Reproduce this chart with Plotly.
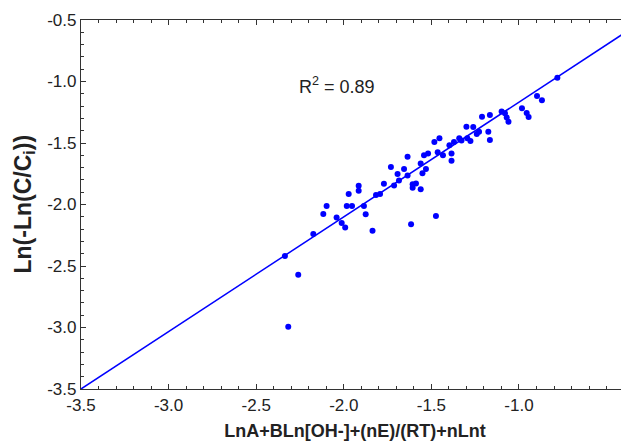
import plotly.graph_objects as go

x_vals = [-2.336, -2.260, -2.317, -2.174, -2.117, -2.098, -2.041, -2.012, -1.992, -1.983,
          -1.953, -1.972, -1.915, -1.915, -1.885, -1.875, -1.836, -1.816, -1.793, -1.771,
          -1.731, -1.713, -1.685, -1.693, -1.656, -1.636, -1.636, -1.607, -1.588, -1.607,
          -1.561, -1.616, -1.561, -1.531, -1.551, -1.542, -1.519, -1.483, -1.454, -1.464,
          -1.434, -1.385, -1.385, -1.474, -1.397, -1.371, -1.341, -1.328, -1.300, -1.261,
          -1.295, -1.277, -1.241, -1.228, -1.175, -1.166, -1.211, -1.166, -1.099, -1.080,
          -1.070, -1.060, -0.983, -0.956, -0.945, -0.897, -0.869, -0.781]
y_vals = [-2.419, -2.571, -2.993, -2.240, -2.077, -2.012, -2.106, -2.150, -2.187, -2.012,
          -2.012, -1.915, -1.847, -1.888, -2.012, -2.079, -2.214, -1.923, -1.915, -1.832,
          -1.695, -1.846, -1.805, -1.752, -1.711, -1.611, -1.764, -1.836, -1.829, -1.863,
          -1.876, -2.161, -1.667, -1.711, -1.746, -1.600, -1.585, -1.492, -1.462, -1.575,
          -1.599, -1.585, -1.644, -2.093, -1.519, -1.492, -1.462, -1.480, -1.367, -1.370,
          -1.462, -1.484, -1.427, -1.409, -1.408, -1.476, -1.286, -1.272, -1.244, -1.259,
          -1.293, -1.327, -1.218, -1.256, -1.289, -1.118, -1.152, -0.969]

fit_slope = 0.933
fit_intercept = -0.2345
x_range = [-3.5, -0.372]
y_range = [-3.5, -0.5]
x_ticks = [-3.5, -3.0, -2.5, -2.0, -1.5, -1.0]
y_ticks = [-3.5, -3.0, -2.5, -2.0, -1.5, -1.0, -0.5]
r2_text = "R<sup>2</sup> = 0.89"
x_title = "<b>LnA+BLn[OH-]+(nE)/(RT)+nLnt</b>"
y_title = "<b>Ln(-Ln(C/C<sub>i</sub>))</b>"

fit_x = list(x_range)
fit_y = [fit_slope * v + fit_intercept for v in fit_x]

fig = go.Figure()
fig.add_trace(go.Scatter(x=fit_x, y=fit_y, mode="lines",
                         line=dict(color="#0000ff", width=1.5), hoverinfo="skip"))
fig.add_trace(go.Scatter(x=x_vals, y=y_vals, mode="markers",
                         marker=dict(color="#0000ff", size=6, line=dict(width=0))))

axis_common = dict(showgrid=False, zeroline=False, showline=True, linecolor="#333333",
                   linewidth=1.2, ticks="inside", ticklen=5, tickcolor="#333333",
                   automargin=False,
                   tickfont=dict(family="Liberation Sans, Arial", size=17, color="#222222"))

fig.update_xaxes(range=x_range, tickvals=x_ticks, ticktext=[f"{v:.1f}" for v in x_ticks],
                 mirror="ticks",
                 minor=dict(dtick=0.1, tick0=-3.5, ticks="inside", ticklen=3, tickcolor="#333333"),
                 title=dict(text=x_title,
                            font=dict(family="Liberation Sans, Arial", size=18, color="#222222"),
                            standoff=10),
                 **axis_common)
fig.update_yaxes(range=y_range, tickvals=y_ticks, ticktext=[f"{v:.1f}" for v in y_ticks],
                 mirror=False,
                 minor=dict(dtick=0.1, tick0=-3.5, ticks="inside", ticklen=3, tickcolor="#333333"),
                 **axis_common)

fig.add_annotation(x=-0.104, y=0.5, xref="paper", yref="paper", text=y_title,
                   textangle=-90, showarrow=False, xanchor="center", yanchor="middle",
                   font=dict(family="Liberation Sans, Arial", size=23, color="#222222"))

fig.add_annotation(x=-2.04, y=-1.03, xref="x", yref="y", text=r2_text, showarrow=False,
                   font=dict(family="Liberation Sans, Arial", size=18, color="#222222"))

# page body adds an 8px offset; margins compensate so the plot box lands where the reference has it
fig.update_layout(width=629, height=446, showlegend=False,
                  margin=dict(l=73, r=8, t=12, b=65),
                  plot_bgcolor="white", paper_bgcolor="white")

fig.write_html("out.html")
